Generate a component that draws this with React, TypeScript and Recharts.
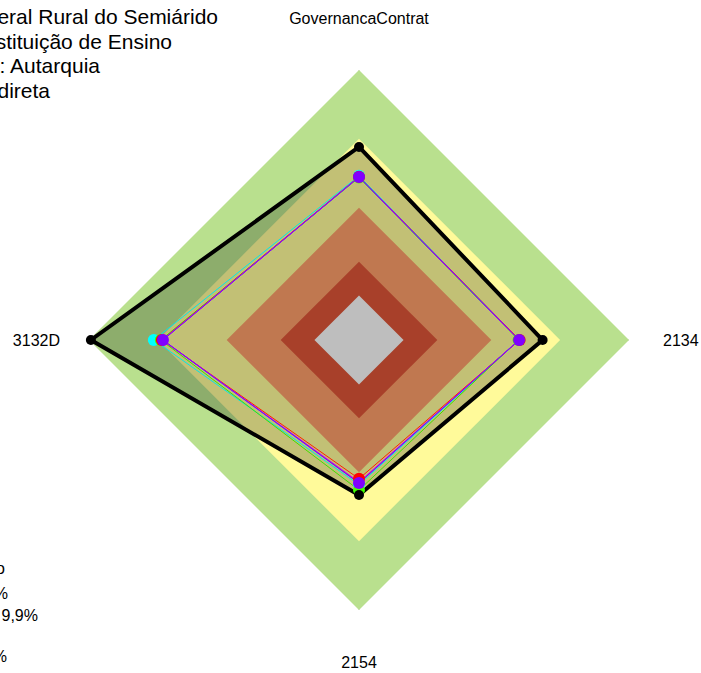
import React from 'react';
import { RadarChart, Radar, PolarGrid, PolarAngleAxis, PolarRadiusAxis } from 'recharts';

// eixos na ordem horária a partir do topo
const axes = ['GovernancaContrat', '2134', '2154', '3132D'];

// faixas de fundo (raio em %, mesmo valor nos 4 eixos)
const bandGreen = [100, 100, 100, 100];
const bandYellow = [74.5, 74.5, 74.5, 74.5];
const bandOrange = [49, 49, 49, 49];
const bandRed = [29, 29, 29, 29];
const bandGray = [16.5, 16.5, 16.5, 16.5];

// series
const orgao = [71.5, 68, 57.4, 99.3];
const cyanSerie = [60.8, 59.4, 53.6, 76];
const greenSerie = [60.2, 59.1, 55.6, 73.4];
const redSerie = [60.5, 59.5, 51.4, 73];
const blueSerie = [60.3, 59.2, 53, 72.8];
const magentaSerie = [60.4, 59.3, 52.6, 72.7];
const purpleSerie = [60.4, 59.3, 53, 72.6];

const titleLines = [
  'Universidade Federal Rural do Semiárido',
  'Tipo de Instituição de Ensino',
  'Natureza Jurídica: Autarquia',
  'Administração Indireta',
];
const legendLines = ['Estágio de capacidade: Aprimorado', 'Intermediário: 40 a 70%', 'Inexpressivo: 0 a 9,9%', 'Inicial: 10 a 39%'];

const data = axes.map((name, i) => ({
  name,
  green: bandGreen[i],
  yellow: bandYellow[i],
  orange: bandOrange[i],
  red: bandRed[i],
  gray: bandGray[i],
  orgao: orgao[i],
  cyan: cyanSerie[i],
  lime: greenSerie[i],
  vermelho: redSerie[i],
  blue: blueSerie[i],
  magenta: magentaSerie[i],
  purple: purpleSerie[i],
}));

const CX = 359;
const CY = 340;
const R = 270;

const renderTick = (props: any) => {
  const { x, y, payload } = props;
  const dx = x - CX;
  const dy = y - CY;
  const len = Math.hypot(dx, dy) || 1;
  const ux = dx / len;
  const uy = dy / len;
  let tx, ty, anchor;
  if (Math.abs(uy) > 0.5) {
    tx = CX;
    ty = CY + uy * 322;
    anchor = 'middle';
  } else {
    tx = CX + ux * (R + (ux > 0 ? 34 : 29));
    ty = CY;
    anchor = ux > 0 ? 'start' : 'end';
  }
  return (
    <text x={tx} y={ty} textAnchor={anchor} dominantBaseline="central" fontSize={16} fill="#000" fontFamily="Liberation Sans, Arial, sans-serif">
      {payload.value}
    </text>
  );
};

const App: React.FC = () => {
  return (
    <div style={{ position: 'absolute', left: 0, top: 0, width: 701, height: 673, background: '#fff', fontFamily: 'Liberation Sans, Arial, sans-serif' }}>
      <RadarChart width={701} height={673} data={data} cx={CX} cy={CY} outerRadius={R} margin={{ top: 0, right: 0, bottom: 0, left: 0 }}>
        <PolarRadiusAxis domain={[0, 100]} tick={false} axisLine={false} />
        <PolarAngleAxis dataKey="name" tick={renderTick} tickLine={false} axisLine={false} />
        <Radar dataKey="green" stroke="none" fill="#b9e08e" fillOpacity={1} isAnimationActive={false} />
        <Radar dataKey="yellow" stroke="none" fill="#fffa9a" fillOpacity={1} isAnimationActive={false} />
        <Radar dataKey="orgao" stroke="none" fill="#0c1206" fillOpacity={0.25} isAnimationActive={false} />
        <Radar dataKey="orange" stroke="none" fill="#c07850" fillOpacity={1} isAnimationActive={false} />
        <Radar dataKey="red" stroke="none" fill="#a8402a" fillOpacity={1} isAnimationActive={false} />
        <PolarGrid gridType="polygon" polarRadius={[0]} stroke="#a8a8a8" strokeOpacity={0.6} />
        <Radar dataKey="gray" stroke="none" fill="#bebebe" fillOpacity={1} isAnimationActive={false} />
        <Radar dataKey="cyan" stroke="#00e8e8" strokeWidth={1} fill="none" dot={{ r: 6, fill: '#00ffff', stroke: 'none' }} isAnimationActive={false} />
        <Radar dataKey="lime" stroke="#40e000" strokeWidth={1} fill="none" dot={{ r: 6, fill: '#40ff00', stroke: 'none' }} isAnimationActive={false} />
        <Radar dataKey="vermelho" stroke="#ff2000" strokeWidth={1} fill="none" dot={{ r: 6, fill: '#ff0000', stroke: 'none' }} isAnimationActive={false} />
        <Radar dataKey="blue" stroke="#4060ff" strokeWidth={1} fill="none" dot={false} isAnimationActive={false} />
        <Radar dataKey="magenta" stroke="#e000e0" strokeWidth={1} fill="none" dot={false} isAnimationActive={false} />
        <Radar dataKey="purple" stroke="#8000ff" strokeWidth={1} fill="none" dot={{ r: 6, fill: '#8000ff', stroke: 'none' }} isAnimationActive={false} />
        <Radar dataKey="orgao" stroke="#000" strokeWidth={4} fill="none" dot={{ r: 5, fill: '#000', stroke: 'none' }} isAnimationActive={false} />
      </RadarChart>
      <svg width={701} height={673} style={{ position: 'absolute', left: 0, top: 0, pointerEvents: 'none' }}>
        <g fontSize={21} fill="#000" fontFamily="Liberation Sans, Arial, sans-serif" textAnchor="end">
          <text x={218} y={24}>{titleLines[0]}</text>
          <text x={172} y={49}>{titleLines[1]}</text>
          <text x={100} y={73}>{titleLines[2]}</text>
          <text x={50} y={98}>{titleLines[3]}</text>
        </g>
        <g fontSize={16} fill="#000" fontFamily="Liberation Sans, Arial, sans-serif" textAnchor="end">
          <text x={5} y={574}>{legendLines[0]}</text>
          <text x={8} y={599}>{legendLines[1]}</text>
          <text x={38} y={621}>{legendLines[2]}</text>
          <text x={7} y={662}>{legendLines[3]}</text>
        </g>
      </svg>
    </div>
  );
};

export default App;
